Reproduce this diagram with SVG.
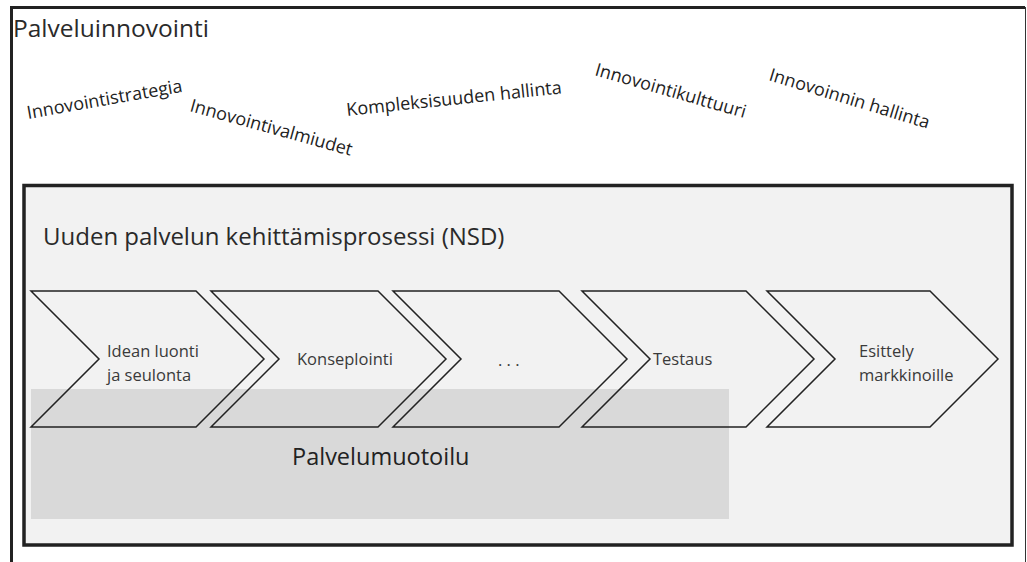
<svg xmlns="http://www.w3.org/2000/svg" width="1027" height="562" viewBox="0 0 1027 562">
<style>
text{font-family:"Open Sans","Noto Sans","Liberation Sans",sans-serif;fill:#2a2a2a}
.big{font-size:24.5px}
.tilt{font-size:18px;fill:#222}
.lbl{font-size:16.5px;fill:#3a3a3a}
.chev{fill:none;stroke:#222;stroke-width:1.5;stroke-linejoin:miter}
</style>
<rect x="0" y="0" width="1027" height="562" fill="#fff"/>
<g id="frame">
<path d="M11.5,562 V7.5 H1025" fill="none" stroke="#222" stroke-width="3"/>
<line x1="1025.5" y1="7" x2="1025.5" y2="562" stroke="#333" stroke-width="1"/>
<text class="big" x="13" y="36.5">Palveluinnovointi</text>
</g>
<g id="themes">
<text class="tilt" transform="translate(28,119) rotate(-10)">Innovointistrategia</text>
<text class="tilt" transform="translate(189,111) rotate(15.5)">Innovointivalmiudet</text>
<text class="tilt" transform="translate(347,116) rotate(-6)">Kompleksisuuden hallinta</text>
<text class="tilt" transform="translate(594,75) rotate(16)">Innovointikulttuuri</text>
<text class="tilt" transform="translate(768,80) rotate(17)">Innovoinnin hallinta</text>
</g>
<g id="nsd">
<rect x="24" y="185.5" width="988" height="359.5" fill="#f2f2f2" stroke="#222" stroke-width="3.5"/>
<text x="43" y="245" style="font-size:24px">Uuden palvelun kehittämisprosessi (NSD)</text>
</g>
<g id="palvelumuotoilu">
<rect x="31" y="389" width="698" height="130" fill="#d9d9d9"/>
<text x="292" y="465" style="font-size:23.5px;fill:#222">Palvelumuotoilu</text>
</g>
<g id="connectors"></g>
<g id="stage1">
<path class="chev" d="M31,291 H196 L264,359 L196,427 H31 L99,359 Z"/>
<text class="lbl" x="107" y="357">Idean luonti</text>
<text class="lbl" x="107" y="381">ja seulonta</text>
</g>
<g id="stage2">
<path class="chev" d="M211,291 H378 L446,359 L378,427 H211 L279,359 Z"/>
<text class="lbl" x="297" y="365">Konseplointi</text>
</g>
<g id="stage3">
<path class="chev" d="M393,291 H559 L627,359 L559,427 H393 L461,359 Z"/>
<text class="lbl" x="498" y="366">. . .</text>
</g>
<g id="stage4">
<path class="chev" d="M582,291 H746 L814,359 L746,427 H582 L650,359 Z"/>
<text class="lbl" x="653" y="365">Testaus</text>
</g>
<g id="stage5">
<path class="chev" d="M767,291 H930 L998,359 L930,427 H767 L835,359 Z"/>
<text class="lbl" x="859" y="357">Esittely</text>
<text class="lbl" x="859" y="381">markkinoille</text>
</g>
</svg>
